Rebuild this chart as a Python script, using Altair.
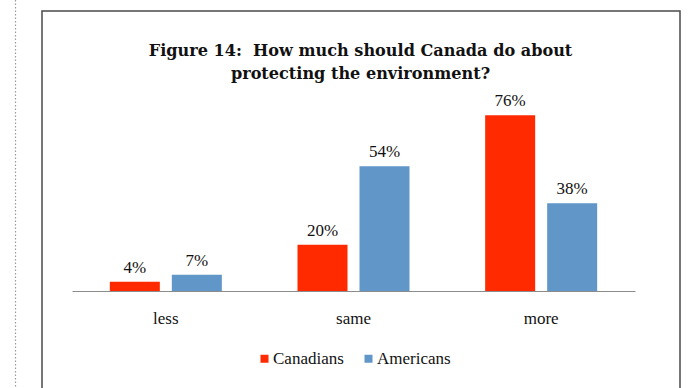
import altair as alt
import pandas as pd

categories = ["less", "same", "more"]
series = ["Canadians", "Americans"]
canadians = [4, 20, 76]
americans = [7, 54, 38]
colors = ["#FF2A00", "#6196C8"]
title_lines = ["Figure 14:\u00a0\u00a0How much should Canada do about", "protecting the environment?"]

SERIF = "Liberation Serif"

rows = []
for i, c in enumerate(categories):
    rows.append({"category": c, "series": series[0], "value": canadians[i]})
    rows.append({"category": c, "series": series[1], "value": americans[i]})
df = pd.DataFrame(rows)

x = alt.X("category:N", sort=categories,
          scale=alt.Scale(paddingInner=0, paddingOuter=0),
          axis=alt.Axis(title=None, labelAngle=0, ticks=False, labelPadding=19,
                        labelFont=SERIF, labelFontSize=17, labelColor="#111",
                        domainColor="#8C8C8C", domainWidth=1.2))
xo = alt.XOffset("series:N", sort=series,
                 scale=alt.Scale(paddingInner=0.1935, paddingOuter=0.61))
y = alt.Y("value:Q", scale=alt.Scale(domain=[0, 80]), axis=None)

base = alt.Chart(df)
bars = base.mark_bar().encode(
    x=x, xOffset=xo, y=y,
    color=alt.Color("series:N", sort=series,
                    scale=alt.Scale(domain=series, range=colors),
                    legend=alt.Legend(title=None, orient="none", direction="horizontal",
                                      legendX=184, legendY=244, symbolType="square",
                                      symbolSize=64, symbolStrokeWidth=0,
                                      labelFont=SERIF, labelFontSize=17,
                                      labelColor="#111", labelOffset=0, columnPadding=16)),
)
labels = base.mark_text(font=SERIF, fontSize=17, color="#111",
                        baseline="alphabetic", dy=-9).encode(
    x=x, xOffset=xo, y=y,
    text=alt.Text("label:N"),
).transform_calculate(label="datum.value + '%'")

deco = alt.Chart(alt.Data(values=[{"a": 1}]))
frame = deco.mark_rect(fill=None, stroke="#4A4A4A", strokeWidth=1.5, clip=False).encode(
    x=alt.value(-30), x2=alt.value(608), y=alt.value(-95), y2=alt.value(300))
dots = deco.mark_rule(stroke="#9A9A9A", strokeWidth=1.2, strokeDash=[1.5, 2], clip=False).encode(
    x=alt.value(-56.5), y=alt.value(-106), y2=alt.value(282))

chart = alt.layer(frame, dots, bars, labels).properties(
    width=563, height=185,
    title=alt.TitleParams(text=title_lines, font="DejaVu Serif", fontSize=16.1,
                          fontWeight="bold", color="#111", anchor="middle",
                          frame="group", dx=7, offset=-83, lineHeight=23),
    padding={"left": 72, "top": 106, "right": 55, "bottom": 97},
    autosize=alt.AutoSizeParams(type="none"),
).configure_view(stroke=None)

chart.save("out.html", embed_options={"renderer": "svg", "actions": False})
